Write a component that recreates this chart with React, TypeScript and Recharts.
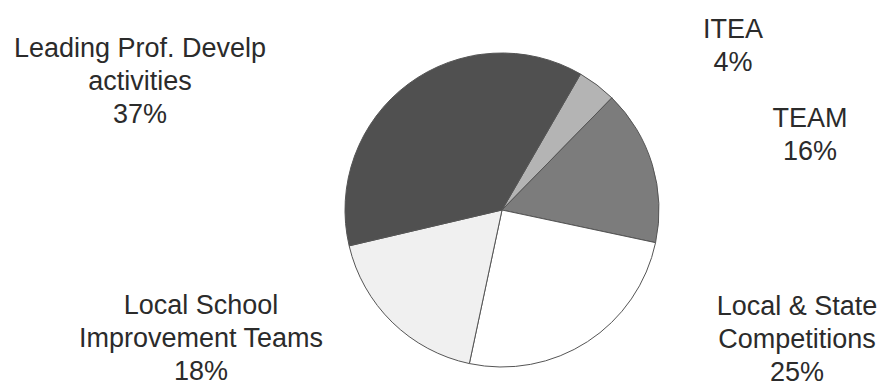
import * as React from "react";
import { PieChart, Pie, Cell } from "recharts";

// categories, clockwise from the ITEA slice
const categories = [
    "ITEA",
    "TEAM",
    "Local & State Competitions",
    "Local School Improvement Teams",
    "Leading Prof. Develp activities",
];
const shares = [4, 16, 25, 18, 37];
const labelLines = [
    ["ITEA", "4%"],
    ["TEAM", "16%"],
    ["Local & State", "Competitions", "25%"],
    ["Local School", "Improvement Teams", "18%"],
    ["Leading Prof. Develp", "activities", "37%"],
];

const fills = ["#b4b4b4", "#7c7c7c", "#ffffff", "#f0f0f0", "#505050"];
// hand-placed label anchors (center x, first baseline y), as in the original
const labelAnchors = [
    { x: 733, y: 38 },
    { x: 810, y: 127 },
    { x: 797, y: 315 },
    { x: 201, y: 314 },
    { x: 140, y: 57 },
];

const data = categories.map((name, i) => ({ name, value: shares[i] }));

function SliceLabel(props: any) {
    const i = props.index;
    const a = labelAnchors[i];
    return (
        <text
            x={a.x}
            y={a.y}
            textAnchor="middle"
            fill="#2b2b2b"
            fontSize={27}
            fontFamily="'Liberation Sans', Arial, sans-serif"
        >
            {labelLines[i].map((line, k) => (
                <tspan key={k} x={a.x} dy={k === 0 ? 0 : 33}>
                    {line}
                </tspan>
            ))}
        </text>
    );
}

export default function App() {
    return (
        <div style={{ position: "absolute", left: 0, top: 0, width: 882, height: 387, background: "#fff" }}>
            <PieChart width={882} height={387}>
                <Pie
                    data={data}
                    dataKey="value"
                    nameKey="name"
                    cx={497}
                    cy={205}
                    outerRadius={157}
                    startAngle={60}
                    endAngle={-300}
                    stroke="#555"
                    strokeWidth={1}
                    label={SliceLabel}
                    labelLine={false}
                    isAnimationActive={false}
                >
                    {data.map((d, i) => (
                        <Cell key={d.name} fill={fills[i]} />
                    ))}
                </Pie>
            </PieChart>
        </div>
    );
}
